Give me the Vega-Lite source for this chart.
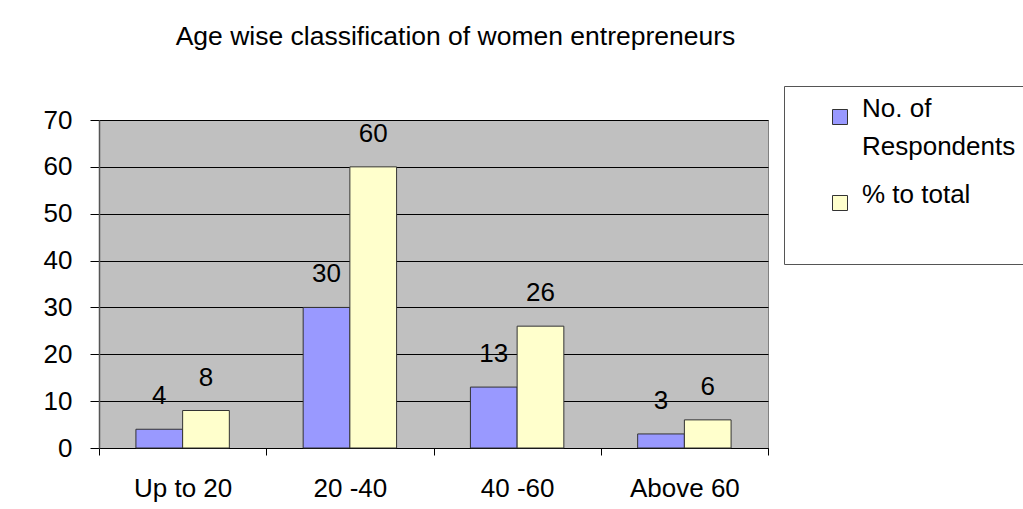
{
  "$schema": "https://vega.github.io/schema/vega-lite/v6.json",
  "width": 669,
  "height": 328,
  "autosize": {"type": "none"},
  "padding": {"left": 99, "top": 120, "right": 255, "bottom": 61},
  "background": "#ffffff",
  "title": {
    "text": "Age wise classification of women entrepreneurs",
    "frame": "group",
    "anchor": "middle",
    "dx": 22,
    "offset": 35,
    "font": "Liberation Sans",
    "fontSize": 26.5,
    "fontWeight": "normal",
    "color": "#000000"
  },
  "data": {
    "values": [
      {"age": "Up to 20", "series": "No. of Respondents", "value": 4},
      {"age": "Up to 20", "series": "% to total", "value": 8},
      {"age": "20 -40", "series": "No. of Respondents", "value": 30},
      {"age": "20 -40", "series": "% to total", "value": 60},
      {"age": "40 -60", "series": "No. of Respondents", "value": 13},
      {"age": "40 -60", "series": "% to total", "value": 26},
      {"age": "Above 60", "series": "No. of Respondents", "value": 3},
      {"age": "Above 60", "series": "% to total", "value": 6}
    ]
  },
  "encoding": {
    "x": {
      "field": "age",
      "type": "nominal",
      "sort": ["Up to 20", "20 -40", "40 -60", "Above 60"],
      "scale": {"paddingInner": 0, "paddingOuter": 0},
      "axis": {
        "title": null,
        "labelAngle": 0,
        "tickBand": "extent",
        "tickSize": 7,
        "tickColor": "#000000",
        "domainColor": "#000000",
        "labelPadding": 20,
        "labelFont": "Liberation Sans",
        "labelFontSize": 26,
        "labelColor": "#000000",
        "grid": false
      }
    },
    "xOffset": {
      "field": "series",
      "type": "nominal",
      "sort": ["No. of Respondents", "% to total"],
      "scale": {"paddingInner": 0, "paddingOuter": 0.79}
    },
    "y": {
      "field": "value",
      "type": "quantitative",
      "scale": {"domain": [0, 70], "nice": false},
      "axis": {
        "title": null,
        "values": [0, 10, 20, 30, 40, 50, 60, 70],
        "tickSize": 9,
        "tickColor": "#000000",
        "domainColor": "#555555",
        "domainWidth": 1.5,
        "grid": true,
        "gridColor": "#000000",
        "gridWidth": 1,
        "labelPadding": 18,
        "labelFont": "Liberation Sans",
        "labelFontSize": 26,
        "labelColor": "#000000"
      }
    }
  },
  "layer": [
    {
      "mark": {"type": "bar", "stroke": "#333333", "strokeWidth": 1},
      "encoding": {
        "color": {
          "field": "series",
          "type": "nominal",
          "scale": {
            "domain": ["No. of Respondents", "% to total"],
            "range": ["#9999ff", "#ffffcc"]
          },
          "legend": {
            "title": null,
            "orient": "none",
            "legendX": 685,
            "legendY": -34,
            "strokeColor": "#555555",
            "fillColor": "#ffffff",
            "padding": 18,
            "symbolType": "square",
            "symbolSize": 225,
            "symbolOffset": 25,
            "symbolStrokeColor": "#333333",
            "symbolStrokeWidth": 1,
            "labelOffset": 9,
            "labelFont": "Liberation Sans",
            "labelFontSize": 26,
            "labelColor": "#000000",
            "labelLimit": 400,
            "labelBaseline": "alphabetic",
            "labelExpr": "datum.label == 'No. of Respondents' ? ['No. of', 'Respondents'] : [datum.label, ' ']",
            "rowPadding": 22
          }
        }
      }
    },
    {
      "mark": {
        "type": "text",
        "baseline": "middle",
        "align": "center",
        "dy": -33,
        "font": "Liberation Sans",
        "fontSize": 26,
        "color": "#000000"
      },
      "encoding": {
        "text": {"field": "value", "type": "quantitative"}
      }
    }
  ],
  "config": {
    "view": {"fill": "#c0c0c0", "stroke": "#808080", "strokeWidth": 1},
    "style": {"guide-label": {"lineHeight": 38}}
  }
}
